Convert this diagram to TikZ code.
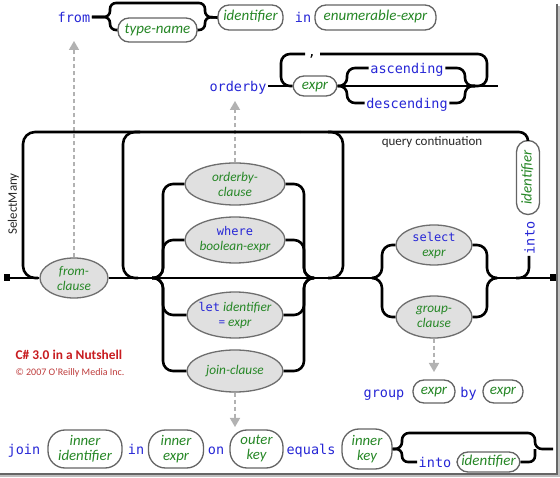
\documentclass[tikz,border=0pt]{standalone}
\usepackage{fontspec}
\setmainfont{Carlito}
\newfontfamily\kwfamily{DejaVu Sans Mono}
\usetikzlibrary{shapes.geometric,arrows.meta}
\definecolor{kwblue}{RGB}{38,38,214}
\definecolor{ntgreen}{RGB}{38,135,38}
\definecolor{ellfill}{RGB}{224,224,224}
\definecolor{elledge}{RGB}{110,110,110}
\definecolor{capedge}{RGB}{100,100,100}
\definecolor{dashgray}{RGB}{178,178,178}
\definecolor{nutred}{RGB}{200,28,32}
\definecolor{copyred}{RGB}{190,60,60}
\definecolor{labgray}{RGB}{40,40,40}
\newcommand\kwbig{\kwfamily\upshape\fontsize{13.5}{14}\selectfont}
\newcommand\kwsmall{\kwfamily\upshape\fontsize{12}{14}\selectfont}
\newcommand\railcap{\itshape\fontsize{15}{15}\selectfont}
\newcommand\railcaptwo{\itshape\fontsize{14.8}{15}\selectfont}
\newcommand\railell{\itshape\fontsize{13.3}{15}\selectfont}
\newcommand\zl[1]{\makebox[0pt]{#1}}
\begin{document}
\begin{tikzpicture}[x=1pt,y=-1pt,
  rail/.style={line width=2.6pt, draw=black},
  dasharr/.style={draw=dashgray, line width=1.6pt, dash pattern=on 4pt off 3pt,
     -{Triangle[width=10pt,length=9pt,fill=dashgray]}},
  kw/.style={font=\kwbig, text=kwblue, inner sep=1.5pt, text height=11pt, text depth=0pt},
  capsule/.style={rectangle, rounded corners=11pt, draw=capedge, line width=1.3pt, fill=white,
     text=ntgreen, font=\railcap, inner xsep=3pt, inner ysep=0pt, text height=10.5pt, text depth=3.5pt},
  capsuletwo/.style={rectangle, rounded corners=17pt, draw=capedge, line width=1.3pt, fill=white,
     text=ntgreen, font=\railcaptwo, inner sep=0pt, minimum height=38pt, align=center},
  ell/.style={ellipse, draw=elledge, fill=ellfill, line width=1.3pt, inner sep=0pt,
     align=center, font=\railell, text=ntgreen},
  term/.style={rectangle, fill=black, minimum width=6pt, minimum height=7pt, inner sep=0pt},
  lab/.style={text=labgray, font=\fontsize{13}{13}\selectfont}
]
\useasboundingbox (0,0) rectangle (560,478);
\fill[white] (0,0) rectangle (560,478);
% frame shadow
\draw[black!25, line width=1.2pt] (559,6) -- (559,476) -- (0,476);
\draw[black!60, line width=1.4pt] (557,4) -- (557,474) -- (0,474);

% ---------- top row: from ----------
\node[kw] (kfrom) at (74,17) {from};
\node[capsule, minimum width=79pt, minimum height=24pt] (tname) at (157.5,30) {type-name};
\node[capsule, minimum width=65pt, minimum height=25pt] (id1) at (250.5,17.5) {identifier};
\node[kw] (kin1) at (303,17) {in};
\node[capsule, minimum width=121pt, minimum height=25pt] (enum) at (375.5,17.5) {enumerable-expr};
\draw[rail, rounded corners=6pt] (kfrom.east) -- (110,17) -- (110,3) -- (205,3) -- (205,17) -- (id1.west);
\draw[rail, rounded corners=6pt] (kfrom.east) -- (110,17) -- (110,30) -- (tname.west);
\draw[rail, rounded corners=6pt] (tname.east) -- (205,30) -- (205,17) -- (id1.west);

% ---------- orderby row ----------
\node[kw] (kob) at (238,86) {orderby};
\node[capsule, minimum width=44pt, minimum height=20pt] (ex1) at (315,86) {expr};
\node[font=\kwbig, inner sep=0pt] (comma) at (312,56) {,};
\coordinate (cl) at (305,54);
\coordinate (cr) at (320,54);
\node[kw] (kasc) at (407,68) {ascending};
\node[kw] (kdesc) at (407,103) {descending};
\coordinate (oend) at (498,86);
\draw[rail] (kob.east) -- (ex1.west);
\draw[rail] (ex1.east) -- (oend);
\draw[rail, rounded corners=9pt] (cl) -- (281,54) -- (281,86) -- (ex1.west);
\draw[rail, rounded corners=9pt] (cr) -- (487,54) -- (487,86) -- (470,86);
\draw[rail, rounded corners=8pt] (ex1.east) -- (347,86) -- (347,68) -- (kasc.west);
\draw[rail, rounded corners=8pt] (ex1.east) -- (347,86) -- (347,103) -- (kdesc.west);
\draw[rail, rounded corners=8pt] (kasc.east) -- (465,68) -- (465,86) -- (475,86);
\draw[rail, rounded corners=8pt] (kdesc.east) -- (465,103) -- (465,86) -- (475,86);

% ---------- main diagram ----------
\node[term] (st) at (7,278) {};
\node[term] (en) at (553,278) {};
\node[ell, minimum width=68pt, minimum height=40pt] (fc) at (74,278) {\zl{from-}\\\zl{clause}};
\node[ell, minimum width=100pt, minimum height=42pt] (obc) at (235,184) {\zl{orderby-}\\\zl{clause}};
\node[ell, minimum width=100pt, minimum height=46pt] (wh) at (235,240) {\zl{\kwsmall\color{kwblue}where}\\\zl{boolean-expr}};
\node[ell, minimum width=96pt, minimum height=46pt] (let) at (235,315) {\zl{{\kwsmall\color{kwblue}let} identifier}\\\zl{{\upshape\color{kwblue}=} expr}};
\node[ell, minimum width=96pt, minimum height=42pt] (jc) at (235,371) {\zl{join-clause}};
\node[ell, minimum width=76pt, minimum height=40pt] (sel) at (434,245) {\zl{\kwsmall\color{kwblue}select}\\\zl{expr}};
\node[ell, minimum width=76pt, minimum height=42pt] (gc) at (434,317) {\zl{group-}\\\zl{clause}};

\node[capsule, rotate=90, rounded corners=11.5pt, minimum width=74pt, minimum height=23pt] (qid) at (528,177.5) {identifier};
\node[kw, rotate=90] (kinto) at (529,238) {into};

\node[lab] (qc) at (432,142) {query continuation};
\node[lab, rotate=90] (sm) at (13.5,204) {SelectMany};

\coordinate (bl) at (152,278);
\coordinate (br) at (314,278);
\coordinate (sl) at (372,278);
\coordinate (sr) at (497,278);

% dashed arrows
\coordinate (tfrom) at (74,41);
\coordinate (tob) at (235,101);
\coordinate (tgr) at (434,372);
\coordinate (tjo) at (235,427);
\draw[dasharr] (fc.north) -- (tfrom);
\draw[dasharr] (obc.north) -- (tob);
\draw[dasharr] (gc.south) -- (tgr);
\draw[dasharr] (jc.south) -- (tjo);

% main line
\draw[rail] (st) -- (fc.west);
\draw[rail] (fc.east) -- (sl);
\draw[rail] (sr) -- (en);

% loops
\draw[rail, rounded corners=12pt] (38,278) -- (23,278) -- (23,132) -- (300,132);
\draw[rail, rounded corners=9pt] (300,132) -- (528,132) -- (qid.east);
\draw[rail, rounded corners=12pt] (140,132) -- (123,132) -- (123,278) -- (138,278);
\draw[rail, rounded corners=12pt] (328,278) -- (343,278) -- (343,132) -- (328,132);
\draw[rail, rounded corners=10pt] (kinto.west) -- (529,278) -- (516,278);

% body clauses
\draw[rail, rounded corners=10pt] (bl) -- (163,278) -- (163,184) -- (obc.west);
\draw[rail, rounded corners=10pt] (bl) -- (163,278) -- (163,240) -- (wh.west);
\draw[rail, rounded corners=10pt] (bl) -- (163,278) -- (163,315) -- (let.west);
\draw[rail, rounded corners=10pt] (bl) -- (163,278) -- (163,371) -- (jc.west);
\draw[rail, rounded corners=10pt] (obc.east) -- (304,184) -- (304,278) -- (br);
\draw[rail, rounded corners=10pt] (wh.east) -- (304,240) -- (304,278) -- (br);
\draw[rail, rounded corners=10pt] (let.east) -- (304,315) -- (304,278) -- (br);
\draw[rail, rounded corners=10pt] (jc.east) -- (304,371) -- (304,278) -- (br);

% select / group
\draw[rail, rounded corners=10pt] (sl) -- (382,278) -- (382,245) -- (sel.west);
\draw[rail, rounded corners=10pt] (sl) -- (382,278) -- (382,317) -- (gc.west);
\draw[rail, rounded corners=10pt] (sel.east) -- (487,245) -- (487,278) -- (sr);
\draw[rail, rounded corners=10pt] (gc.east) -- (487,317) -- (487,278) -- (sr);

% ---------- group row ----------
\node[kw] (kgroup) at (384,392) {group};
\node[capsule, minimum width=42pt, minimum height=23pt] (gex1) at (434,391.5) {expr};
\node[kw] (kby) at (468.5,392) {by};
\node[capsule, minimum width=40pt, minimum height=23pt] (gex2) at (503,391.5) {expr};

% ---------- join row ----------
\node[kw] (kjoin) at (24,449) {join};
\node[capsuletwo, minimum width=74pt] (iid) at (85,449) {inner\\identifier};
\node[kw] (kin2) at (136,449) {in};
\node[capsuletwo, minimum width=55pt] (iex) at (176,449) {inner\\expr};
\node[kw] (kon) at (216,449) {on};
\node[capsuletwo, minimum width=53pt] (okey) at (256.5,449) {outer\\key};
\node[kw] (keq) at (311,449) {equals};
\node[capsuletwo, minimum width=50pt, minimum height=40pt] (ikey) at (367,449) {inner\\key};
\node[kw] (kinto2) at (435,462) {into};
\node[capsule, minimum width=63pt, minimum height=20pt] (id2) at (488.5,462) {identifier};
\coordinate (jend) at (553,449);
\draw[rail, rounded corners=7pt] (ikey.east) -- (402,449) -- (402,433) -- (535,433) -- (535,449) -- (jend);
\draw[rail, rounded corners=6pt] (ikey.east) -- (402,449) -- (402,462) -- (kinto2.west);
\draw[rail, rounded corners=6pt] (id2.east) -- (535,462) -- (535,449);

% ---------- credits ----------
\node[anchor=west, text=nutred, font=\bfseries\fontsize{13.4}{14}\selectfont] (nut) at (12,355) {C\# 3.0 in a Nutshell};
\node[anchor=west, text=copyred, font=\fontsize{10}{10}\selectfont] (copy) at (12,372.5) {© 2007 O’Reilly Media Inc.};
\end{tikzpicture}
\end{document}
